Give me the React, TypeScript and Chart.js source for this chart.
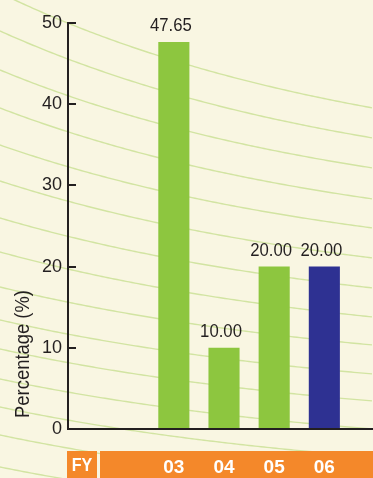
import React, { useEffect, useRef } from 'react';
import { Chart, registerables } from 'chart.js';

Chart.register(...registerables);

// ---- data ----
const categories = ['03', '04', '05', '06'];
const values = [47.65, 10.0, 20.0, 20.0];
const barColors = ['#8dc63f', '#8dc63f', '#8dc63f', '#2e3192'];
const yTickStep = 10;
const yMax = 50;
const axisPrefix = 'FY';
const yTitle = 'Percentage (%)';
const firstPosition = 3; // position of first fiscal year on the axis

const W = 373;
const H = 478;
const BG = '#f9f6e2';
const INK = '#231f20';
const ORANGE = '#f4882a';
const FONT = '"Liberation Sans", Arial, sans-serif';

const decorPlugin = {
  id: 'decor',
  beforeDraw(chart: any) {
    const ctx = chart.ctx;
    const cw = chart.width;
    const ch = chart.height;
    ctx.save();
    ctx.fillStyle = BG;
    ctx.fillRect(0, 0, cw, ch);
    // decorative curves
    const starts = [-7, 31, 70, 108, 145, 181, 218, 252, 287, 320, 349, 379, 407, 435, 467];
    const drops = [115, 107, 98, 91, 83, 77, 70, 65, 58, 54, 52, 50, 50, 50, 48];
    const L = 380;
    const norm = 1 - Math.exp(-cw / L);
    ctx.strokeStyle = '#d2e4a2';
    ctx.lineWidth = 1.4;
    for (let k = 0; k < starts.length; k++) {
      ctx.beginPath();
      for (let x = 0; x <= cw; x += 3) {
        const y = starts[k] + drops[k] * (1 - Math.exp(-x / L)) / norm;
        if (x === 0) ctx.moveTo(x, y);
        else ctx.lineTo(x, y);
      }
      ctx.stroke();
    }
    // orange axis band
    const area = chart.chartArea;
    const bandTop = area.bottom + 22;
    ctx.fillStyle = ORANGE;
    ctx.fillRect(area.left - 1, bandTop, 30, ch - bandTop);
    ctx.fillRect(area.left + 32, bandTop, cw - area.left - 32, ch - bandTop);
    ctx.restore();
  },
  afterDraw(chart: any) {
    const ctx = chart.ctx;
    const area = chart.chartArea;
    const ys = chart.scales.y;
    ctx.save();
    // inward tick marks
    ctx.strokeStyle = INK;
    ctx.lineWidth = 2;
    ys.ticks.forEach((t: any) => {
      const py = Math.round(ys.getPixelForValue(t.value));
      ctx.beginPath();
      ctx.moveTo(area.left, py);
      ctx.lineTo(area.left + 8, py);
      ctx.stroke();
    });
    // value labels (slightly condensed)
    ctx.fillStyle = INK;
    ctx.font = '19px ' + FONT;
    ctx.textAlign = 'center';
    ctx.textBaseline = 'alphabetic';
    const meta = chart.getDatasetMeta(0);
    meta.data.forEach((bar: any, i: number) => {
      ctx.save();
      ctx.translate(bar.x - 3, bar.y - 11);
      ctx.scale(0.88, 1);
      ctx.fillText(values[i].toFixed(2), 0, 0);
      ctx.restore();
    });
    // y title
    ctx.save();
    ctx.translate(23, area.bottom - 75);
    ctx.rotate(-Math.PI / 2);
    ctx.scale(0.92, 1);
    ctx.font = '20px ' + FONT;
    ctx.textBaseline = 'middle';
    ctx.fillText(yTitle, 0, 0);
    ctx.restore();
    // FY label
    ctx.fillStyle = '#ffffff';
    ctx.font = 'bold 19px ' + FONT;
    ctx.textAlign = 'center';
    ctx.textBaseline = 'middle';
    ctx.save();
    ctx.translate(area.left + 14, area.bottom + 37);
    ctx.scale(0.85, 1);
    ctx.fillText(axisPrefix, 0, 0);
    ctx.restore();
    ctx.restore();
  },
};

export default function App() {
  const ref = useRef<HTMLCanvasElement | null>(null);

  useEffect(() => {
    if (!ref.current) return;
    const chart = new Chart(ref.current, {
      type: 'bar',
      data: {
        datasets: [
          {
            data: values.map((v, i) => ({ x: firstPosition + i, y: v })),
            backgroundColor: barColors,
            borderWidth: 0,
            categoryPercentage: 1,
            barPercentage: 0.62,
          },
        ],
      },
      options: {
        animation: false,
        responsive: false,
        devicePixelRatio: 1,
        layout: { padding: { top: 23, right: 0, bottom: 0, left: 0 } },
        plugins: {
          legend: { display: false },
          tooltip: { enabled: false },
          title: { display: false },
        },
        scales: {
          x: {
            type: 'linear',
            min: 0.89,
            max: 6.97,
            offset: false,
            grid: { display: false, offset: false },
            border: { display: true, color: INK, width: 2, z: 1 },
            afterBuildTicks: (scale: any) => {
              scale.ticks = categories.map((_, i) => ({ value: firstPosition + i }));
            },
            afterFit: (scale: any) => {
              scale.height = 49;
            },
            ticks: {
              autoSkip: false,
              maxRotation: 0,
              padding: 19,
              color: '#ffffff',
              font: { family: FONT, size: 19, weight: 'bold' },
              callback: (v: any) => categories[Math.round(Number(v)) - firstPosition] ?? '',
            },
          },
          y: {
            min: 0,
            max: yMax,
            grid: { display: false, drawTicks: false },
            border: { display: true, color: INK, width: 2, z: 1 },
            afterFit: (scale: any) => {
              scale.width = 68;
            },
            ticks: {
              stepSize: yTickStep,
              padding: 6,
              color: INK,
              font: { family: FONT, size: 18 },
            },
          },
        },
      } as any,
      plugins: [decorPlugin],
    });
    return () => chart.destroy();
  }, []);

  return (
    <div style={{ position: 'fixed', left: 0, top: 0, width: W, height: H, background: BG }}>
      <canvas ref={ref} width={W} height={H} style={{ width: W, height: H, display: 'block' }} />
    </div>
  );
}
